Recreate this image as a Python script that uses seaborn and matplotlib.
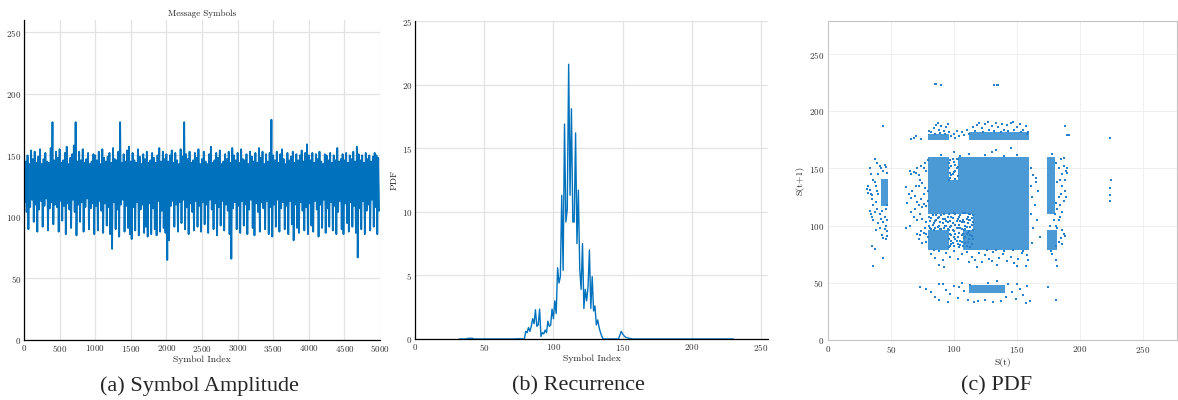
import numpy as np
import pandas as pd
import seaborn as sns
from matplotlib import pyplot as plt

# (a) message symbols: per 25-symbol block, the highest and lowest amplitude
amp_high = [
    156, 145, 150, 143, 154, 147, 153, 144, 149, 155, 143, 147, 152, 145, 144, 156, 177, 146, 153, 148,
    155, 144, 146, 152, 157, 143, 148, 151, 158, 177, 145, 153, 146, 155, 144, 147, 152, 143, 145, 151,
    150, 146, 153, 143, 155, 148, 145, 149, 152, 144, 156, 147, 146, 153, 177, 144, 151, 145, 154, 157,
    145, 152, 146, 144, 155, 149, 143, 151, 147, 153, 144, 146, 152, 148, 144, 150, 156, 145, 153, 147,
    151, 145, 150, 154, 144, 152, 146, 143, 155, 149, 177, 151, 147, 153, 144, 146, 152, 148, 155, 143,
    147, 153, 145, 143, 151, 157, 144, 146, 152, 148, 154, 143, 145, 151, 147, 153, 144, 156, 150, 146,
    152, 144, 155, 147, 146, 151, 143, 153, 149, 145, 152, 144, 156, 148, 153, 143, 151, 145, 152, 179,
    150, 146, 153, 144, 151, 155, 147, 143, 152, 146, 149, 153, 144, 151, 146, 150, 154, 145, 152, 159,
    150, 146, 152, 144, 151, 147, 153, 145, 143, 151, 150, 146, 152, 144, 150, 146, 156, 145, 147, 151,
    146, 152, 144, 150, 147, 153, 145, 157, 151, 146, 150, 144, 152, 147, 150, 145, 149, 152, 150, 148,
]
amp_low = [
    112, 104, 90, 108, 114, 96, 110, 88, 106, 113, 92, 109, 115, 89, 107, 112, 94, 110, 108, 88,
    113, 97, 109, 86, 111, 106, 91, 114, 104, 85, 110, 96, 112, 88, 108, 115, 90, 107, 111, 86,
    109, 89, 113, 105, 87, 111, 93, 108, 86, 74, 112, 90, 106, 84, 110, 114, 88, 109, 91, 86,
    82, 108, 89, 112, 85, 106, 110, 87, 92, 84, 111, 86, 107, 90, 85, 113, 88, 105, 91, 87,
    65, 81, 109, 113, 92, 110, 88, 112, 95, 114, 90, 108, 86, 111, 104, 89, 113, 92, 109, 88,
    112, 94, 110, 87, 114, 106, 90, 111, 85, 108, 93, 113, 89, 110, 105, 86, 66, 107, 112, 90,
    109, 87, 113, 93, 110, 86, 106, 114, 91, 85, 111, 104, 88, 112, 107, 90, 113, 86, 108, 84,
    110, 92, 114, 88, 107, 112, 90, 109, 86, 113, 94, 81, 110, 91, 87, 112, 105, 89, 108, 86,
    111, 93, 88, 113, 106, 84, 110, 91, 114, 87, 107, 92, 112, 89, 109, 86, 104, 113, 90, 86,
    111, 95, 88, 112, 92, 109, 87, 67, 107, 90, 113, 86, 105, 110, 89, 114, 92, 108, 86, 105,
]
block_len = 25

# (b) recurrence / pdf over symbol levels
pdf_levels = list(range(32, 231))
pdf_peak_levels = [38, 39, 40, 41, 42, 73, 75, 77] + list(range(80, 136)) + list(range(147, 157))
pdf_peak_values = [
    0.04, 0.06, 0.05, 0.06, 0.03, 0.02, 0.03, 0.02,
    0.6, 0.5, 0.9, 0.6, 1.0, 1.6, 1.2, 2.3, 1.0, 1.1,
    2.35, 0.2, 0.5, 0.4, 0.7, 0.5, 1.4, 1.0, 1.1, 2.35,
    1.6, 3.0, 2.0, 5.6, 4.4, 4.9, 11.3, 5.4, 16.9, 9.2,
    10.2, 21.6, 11.3, 18.1, 9.2, 9.2, 16.2, 7.5, 11.7, 5.5,
    3.9, 7.5, 2.4, 3.9, 3.0, 4.1, 7.0, 2.4, 4.9, 2.2,
    2.6, 1.1, 1.5, 0.9, 0.5, 0.2,
    0.0, 0.3, 0.6, 0.4, 0.25, 0.15, 0.1, 0.08, 0.05, 0.03,
]

# (c) S(t) vs S(t+1): fully occupied level blocks (x0, x1, y0, y1) ...
dense_blocks = [
    (80, 95, 111, 159), (80, 95, 80, 95), (96, 103, 111, 139), (104, 159, 111, 159),
    (116, 159, 96, 110), (108, 159, 80, 95), (80, 95, 176, 179), (113, 159, 176, 181),
    (175, 179, 111, 159), (175, 181, 80, 95), (43, 47, 118, 140), (113, 140, 42, 47),
]
# ... and scattered pairs
sparse_pts = [
    (32, 129), (33, 131), (34, 128), (35, 127), (33, 150), (34, 145), (36, 140), (37, 138), (35, 123),
    (36, 118), (38, 121), (39, 130), (40, 128), (38, 135), (40, 145), (41, 152), (39, 155), (37, 158),
    (42, 150), (44, 148), (46, 151), (45, 153), (47, 146), (34, 110), (35, 108), (37, 112), (36, 105),
    (39, 115), (41, 110), (43, 113), (42, 106), (44, 103), (46, 100), (45, 97), (47, 95), (43, 92),
    (44, 89), (46, 88), (47, 91), (41, 98), (40, 102), (38, 96), (35, 82), (37, 80), (44, 72), (36, 65),
    (44, 187), (46, 115), (47, 118), (45, 108), (47, 105), (33, 113), (32, 135), (31, 132),
    (65, 148), (66, 145), (68, 147), (70, 146), (71, 150), (72, 144), (74, 152), (76, 150), (78, 148),
    (77, 155), (79, 157), (73, 140), (75, 137), (77, 133), (79, 130), (70, 135), (67, 130), (64, 128),
    (66, 124), (69, 126), (71, 121), (74, 123), (76, 119), (78, 117), (72, 118), (69, 115), (66, 112),
    (68, 108), (71, 105), (73, 110), (75, 106), (78, 103), (77, 98), (74, 95), (71, 93), (73, 92),
    (76, 94), (78, 93), (79, 90), (72, 88), (65, 100), (63, 120), (62, 98), (75, 85), (78, 86),
    (74, 176), (68, 177), (70, 178), (66, 176), (62, 134), (72, 135), (76, 128), (79, 122), (75, 116),
    (82, 182), (84, 185), (86, 188), (88, 184), (90, 187), (92, 183), (94, 186), (85, 180), (89, 181),
    (93, 180), (95, 189), (80, 183), (87, 190), (104, 178), (106, 182), (108, 179), (110, 184),
    (112, 180), (101, 177), (115, 186), (118, 188), (120, 190), (122, 185), (125, 189), (127, 191),
    (130, 187), (133, 190), (135, 186), (138, 189), (140, 184), (142, 188), (145, 190), (147, 191),
    (150, 186), (152, 189), (155, 184), (157, 187), (159, 182), (117, 183), (123, 182), (128, 184),
    (132, 183), (137, 182), (143, 183), (148, 184), (153, 182), (158, 180), (98, 178), (100, 180),
    (96, 182), (102, 183), (85, 224), (86, 224), (90, 223), (132, 223), (134, 223), (135, 223),
    (224, 177), (225, 140), (224, 133), (224, 127), (224, 122), (188, 187), (190, 179), (191, 179),
    (175, 46), (181, 35), (73, 46),
    (181, 155), (183, 150), (185, 158), (187, 152), (189, 148), (190, 146), (186, 145), (184, 140),
    (182, 138), (186, 135), (188, 130), (185, 128), (183, 125), (181, 120), (184, 118), (187, 122),
    (189, 125), (182, 115), (180, 110), (183, 105), (181, 100), (186, 112), (184, 108), (188, 140),
    (190, 150), (187, 159), (178, 163), (182, 98), (186, 96), (187, 93), (188, 91), (185, 89),
    (183, 86), (181, 82), (186, 84), (178, 75), (181, 70), (182, 65), (177, 78), (179, 105), (176, 100),
    (81, 98), (83, 101), (85, 104), (87, 99), (89, 103), (91, 106), (93, 100), (95, 108), (82, 107),
    (86, 109), (90, 97), (94, 104), (84, 96), (88, 108), (92, 110), (97, 82), (99, 85), (101, 88),
    (103, 84), (105, 87), (107, 82), (109, 90), (111, 86), (113, 92), (115, 88), (98, 92), (100, 95),
    (102, 98), (104, 101), (106, 97), (108, 103), (110, 99), (112, 105), (114, 101), (97, 104),
    (99, 107), (101, 110), (103, 106), (105, 109), (107, 105), (109, 111), (111, 108), (113, 110),
    (115, 96), (98, 100), (100, 90), (106, 92), (112, 95), (114, 84), (96, 88), (110, 82), (104, 94),
    (96, 96), (97, 99), (98, 108), (99, 102), (100, 111), (101, 93), (102, 104), (103, 90), (104, 108),
    (105, 98), (106, 103), (107, 111), (108, 96), (109, 100), (110, 106), (111, 94), (112, 110),
    (113, 99), (114, 107), (115, 103), (96, 110), (98, 84), (100, 82), (102, 87), (104, 81), (106, 86),
    (108, 89), (110, 93), (112, 88), (114, 91), (97, 93), (99, 96), (101, 101), (103, 98), (105, 104),
    (107, 93), (109, 97), (111, 102), (113, 105), (115, 109), (96, 81), (98, 87), (105, 83), (109, 85),
    (113, 81), (80, 100), (81, 104), (82, 97), (83, 109), (84, 102), (85, 98), (86, 105), (87, 107),
    (88, 100), (89, 97), (90, 109), (91, 102), (92, 98), (93, 106), (94, 100), (95, 97), (80, 108),
    (95, 103), (96, 140), (98, 144), (100, 147), (102, 150), (96, 155), (99, 158), (101, 153),
    (103, 151), (97, 146), (103, 158),
    (97, 142), (99, 145), (101, 148), (98, 152), (100, 156), (102, 158), (96, 150), (103, 143),
    (97, 157), (101, 141), (90, 162), (105, 161), (112, 163), (125, 162), (130, 164), (133, 166),
    (140, 161), (145, 168), (150, 162), (100, 164), (161, 150), (163, 144), (165, 138), (167, 130),
    (162, 125), (164, 118), (161, 110), (166, 105), (163, 98), (168, 90), (162, 85), (165, 142),
    (161, 135), (82, 75), (85, 72), (88, 78), (91, 70), (94, 76), (97, 73), (100, 78), (103, 71),
    (106, 75), (110, 77), (114, 73), (117, 70), (120, 76), (122, 68), (125, 74), (128, 71), (131, 77),
    (134, 66), (136, 72), (139, 75), (142, 69), (145, 73), (148, 67), (151, 71), (154, 76), (157, 65),
    (159, 70), (118, 64), (126, 79), (133, 79), (140, 78), (147, 79), (155, 78), (88, 66), (92, 64),
    (112, 68), (130, 69), (150, 65), (158, 74), (84, 79), (78, 45), (82, 42), (85, 38), (88, 35),
    (91, 49), (94, 44), (97, 40), (100, 47), (103, 37), (106, 50), (108, 43), (111, 35), (113, 48),
    (116, 33), (143, 49), (146, 42), (149, 36), (152, 45), (155, 39), (158, 47), (160, 34), (88, 49),
    (95, 33), (104, 46), (141, 38), (137, 34), (131, 33), (125, 35), (119, 34), (134, 52), (127, 50),
    (150, 49), (157, 32),
]

blue = '#0072BD'

sns.set_style('whitegrid')
plt.rcParams['font.family'] = ['cmr10', 'DejaVu Serif']
plt.rcParams['axes.formatter.use_mathtext'] = True
plt.rcParams['mathtext.fontset'] = 'cm'

fig = plt.figure(figsize=(11.78, 4.0), dpi=100)
W, H = 1178, 400
ax1 = fig.add_axes([24 / W, 60 / H, 356 / W, 320 / H])
ax2 = fig.add_axes([415 / W, 61 / H, 353 / W, 318 / H])
ax3 = fig.add_axes([828 / W, 60 / H, 349 / W, 319 / H])

# (a)
n = len(amp_high)
idx = np.empty(2 * n)
idx[0::2] = np.arange(n) * block_len
idx[1::2] = np.arange(n) * block_len + block_len // 2
amp = np.empty(2 * n)
amp[0::2] = amp_high
amp[1::2] = amp_low
df_a = pd.DataFrame({'idx': idx, 'amp': amp})
sns.lineplot(data=df_a, x='idx', y='amp', ax=ax1, color=blue, lw=1.3,
             estimator=None, sort=False)
ax1.set_xlim(0, 5000)
ax1.set_ylim(0, 260)
ax1.set_xticks(range(0, 5001, 500))
ax1.set_yticks(range(0, 251, 50))
ax1.set_xlabel('Symbol Index', fontsize=7, labelpad=1)
ax1.set_ylabel('')
ax1.set_title('Message Symbols', fontsize=6.5, pad=3)

# (b)
pdf = dict(zip(pdf_peak_levels, pdf_peak_values))
df_b = pd.DataFrame({'level': pdf_levels, 'pdf': [pdf.get(v, 0.0) for v in pdf_levels]})
sns.lineplot(data=df_b, x='level', y='pdf', ax=ax2, color=blue, lw=1.0)
ax2.set_xlim(0, 255)
ax2.set_ylim(0, 25)
ax2.set_xticks(range(0, 251, 50))
ax2.set_yticks(range(0, 26, 5))
ax2.set_xlabel('Symbol Index', fontsize=7, labelpad=1)
ax2.set_ylabel('PDF', fontsize=7, labelpad=2)

for ax in (ax1, ax2):
    for s in ('top', 'right'):
        ax.spines[s].set_visible(False)
    for s in ('left', 'bottom'):
        ax.spines[s].set_color('black')
        ax.spines[s].set_linewidth(0.9)
    ax.grid(True, color='#e2e2e2', lw=0.9)
    ax.tick_params(direction='in', length=2.5, width=0.7, labelsize=6.5, pad=2,
                   color='black', labelcolor='#333333')

# (c)
xs, ys = [], []
for x0, x1, y0, y1 in dense_blocks:
    gx, gy = np.meshgrid(np.arange(x0, x1 + 1), np.arange(y0, y1 + 1))
    xs.extend(gx.ravel())
    ys.extend(gy.ravel())
df_dense = pd.DataFrame({'s_t': xs, 's_t1': ys})
df_sparse = pd.DataFrame(sparse_pts, columns=['s_t', 's_t1'])
sns.scatterplot(data=df_dense, x='s_t', y='s_t1', ax=ax3, color='#4b9ad6', marker='s',
                s=0.85, linewidth=0)
sns.scatterplot(data=df_sparse, x='s_t', y='s_t1', ax=ax3, color='#2a80c8', marker='s',
                s=1.4, linewidth=0)
ax3.set_xlim(0, 277)
ax3.set_ylim(0, 279)
ax3.set_xticks(range(0, 251, 50))
ax3.set_yticks(range(0, 251, 50))
ax3.set_xlabel('S(t)', fontsize=7, labelpad=2)
ax3.set_ylabel('S(t+1)', fontsize=7, labelpad=3)
for s in ax3.spines.values():
    s.set_color('#c4c4c4')
    s.set_linewidth(0.8)
ax3.grid(True, color='#efefef', lw=0.7)
ax3.tick_params(length=0, labelsize=6.5, pad=3, labelcolor='#333333')

# captions
cap = dict(ha='center', va='center', fontsize=16, family='Liberation Serif')
fig.text(199 / W, 14 / H, '(a) Symbol Amplitude', **cap)
fig.text(578 / W, 14 / H, '(b) Recurrence', **cap)
fig.text(997 / W, 14 / H, '(c) PDF', **cap)

fig.savefig('out.png', dpi=100)
